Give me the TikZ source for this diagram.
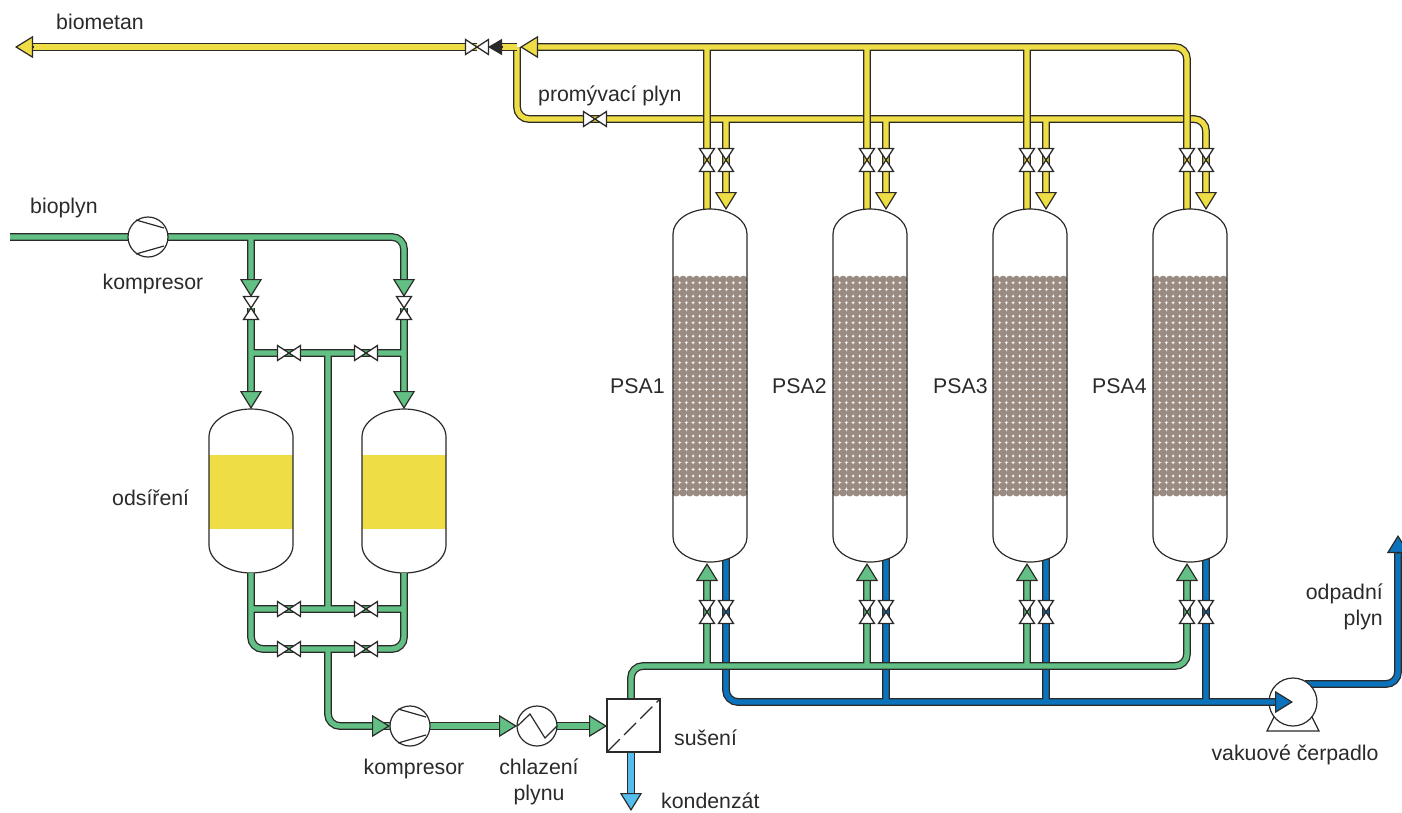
\documentclass[tikz,border=0pt]{standalone}
\usepackage{fontspec}
\setmainfont{Liberation Sans}
\usetikzlibrary{arrows.meta,calc}
\definecolor{ink}{HTML}{2B2A29}
\definecolor{yel}{HTML}{EFDD45}
\definecolor{grn}{HTML}{62C085}
\definecolor{blu}{HTML}{0B72BC}
\definecolor{sky}{HTML}{55BDEE}
\definecolor{bed}{HTML}{9A8B82}
\tikzset{
  pipeout/.style={draw=ink,line width=7.8pt,rounded corners=12pt},
  pipein/.style={draw=#1,line width=5.2pt,rounded corners=12pt},
  headtip/.style={draw=ink,line width=1.2pt,-{Triangle[length=18pt,width=22pt,fill=#1,sep=0pt]}},
  blacktipstyle/.style={draw=ink,line width=1.2pt,-{Triangle[length=14pt,width=16pt,fill=ink,sep=0pt]}},
  valveshape/.style={draw=ink,fill=white,line width=1.3pt,line join=miter},
  equip/.style={draw=ink,fill=white,line width=1.2pt,inner sep=0pt,circle,minimum size=40pt},
  shell/.style={draw=ink,line width=1.2pt},
  lab/.style={text=ink,font=\fontsize{21.3pt}{24pt}\selectfont,inner sep=0pt,anchor=base west},
  labc/.style={text=ink,font=\fontsize{21.3pt}{24pt}\selectfont,inner sep=0pt,anchor=base},
  labe/.style={text=ink,font=\fontsize{21.3pt}{24pt}\selectfont,inner sep=0pt,anchor=base east}
}
\newcommand{\pipes}[2]{\draw[pipeout] #2; \draw[pipein=#1] #2;}
\newcommand{\head}[3]{\draw[headtip=#1] (#2) -- (#3);}
\newcommand{\valveH}[2]{\node[coordinate] (#1) at (#2) {};
  \draw[valveshape] ($(#1)+(-11.5,-7.5)$) -- ($(#1)+(11.5,7.5)$) -- ($(#1)+(11.5,-7.5)$) -- ($(#1)+(-11.5,7.5)$) -- cycle;}
\newcommand{\valveV}[2]{\node[coordinate] (#1) at (#2) {};
  \draw[valveshape] ($(#1)+(-7.5,-11.5)$) -- ($(#1)+(7.5,11.5)$) -- ($(#1)+(-7.5,11.5)$) -- ($(#1)+(7.5,-11.5)$) -- cycle;}
% name, cx, top, bottom, rx, ry
\newcommand{\vesselpath}[6]{
  \pgfmathsetmacro{\vl}{#2-#5}\pgfmathsetmacro{\vr}{#2+#5}
  \pgfmathsetmacro{\vtt}{#3+#6}\pgfmathsetmacro{\vbb}{#4-#6}
  \pgfmathsetmacro{\kx}{0.5523*#5}\pgfmathsetmacro{\ky}{0.5523*#6}
  \pgfmathsetmacro{\cl}{#2-\kx}\pgfmathsetmacro{\cr}{#2+\kx}
  \pgfmathsetmacro{\ct}{\vtt-\ky}\pgfmathsetmacro{\cb}{\vbb+\ky}
  \def\shellpath{(\vl,\vtt) .. controls (\vl,\ct) and (\cl,#3) .. (#2,#3)
    .. controls (\cr,#3) and (\vr,\ct) .. (\vr,\vtt) -- (\vr,\vbb)
    .. controls (\vr,\cb) and (\cr,#4) .. (#2,#4)
    .. controls (\cl,#4) and (\vl,\cb) .. (\vl,\vbb) -- cycle}
  \node[coordinate] (#1) at (#2,{(#3+#4)/2}) {};
  \fill[white] \shellpath;
}
\begin{document}
\begin{tikzpicture}[x=1pt,y=-1pt]
\useasboundingbox (0,0) rectangle (1402,812);

% ---------- named points
\foreach \n/\a/\b in {1/707/726,2/867/886,3/1027/1046,4/1187/1206}{
  \coordinate (ta\n) at (\a,47);
  \coordinate (tb\n) at (\a,215);
  \coordinate (wa\n) at (\b,119);
  \coordinate (wb\n) at (\b,193);
  \coordinate (wt\n) at (\b,210);
  \coordinate (ga\n) at (\a,666);
  \coordinate (gb\n) at (\a,579);
  \coordinate (gt\n) at (\a,563);
  \coordinate (ba\n) at (\b,550);
  \coordinate (bb\n) at (\b,701);
  \node[coordinate] (vy\n) at (\a,160) {};
  \node[coordinate] (vw\n) at (\b,160) {};
  \node[coordinate] (vg\n) at (\a,612) {};
  \node[coordinate] (vb\n) at (\b,612) {};
}
\coordinate (topin) at (537,47);
\coordinate (toptip) at (520,47);
\coordinate (wj) at (517,47);
\coordinate (wcorner) at (517,119);
\coordinate (blackbase) at (502,47);
\coordinate (blacktip) at (488,47);
\coordinate (biobase) at (33,47);
\coordinate (biotip) at (15,47);
\node[coordinate] (vbio) at (477,47) {};
\node[coordinate] (vwash) at (595,119) {};

% ---------- yellow: rinse line below, product line above
\pipes{yel}{(wj) -- (wcorner) -- (1206,119) -- (wb4) (wa1) -- (wb1) (wa2) -- (wb2) (wa3) -- (wb3)}
\pipes{yel}{(blackbase) -- (wj)}
\pipes{yel}{(topin) -- (1187,47) -- (tb4) (ta1) -- (tb1) (ta2) -- (tb2) (ta3) -- (tb3)}
\pipes{yel}{(biobase) -- (vbio)}

% ---------- blue tail gas below, green PSA feed above
\coordinate (pumpout) at (1305,684);
\coordinate (wastebase) at (1398,553);
\coordinate (wastetip) at (1398,535);
\pipes{blu}{(pumpout) -- (1398,684) -- (wastebase)}
\draw[shell,fill=white] (1274,717) -- (1267,731) -- (1319,731) -- (1312,717);
\node[equip,minimum size=48pt] (pump) at (1293,702) {};
\coordinate (pumpbase) at (1277,702);
\pipes{blu}{(ba1) -- (726,702) -- (pumpbase) (ba2) -- (bb2) (ba3) -- (bb3) (ba4) -- (bb4)}
\coordinate (dryout) at (631,700);
\pipes{grn}{(dryout) -- (631,666) -- (1187,666) -- (gb4) (ga1) -- (gb1) (ga2) -- (gb2) (ga3) -- (gb3)}

% ---------- PSA vessels
\foreach \n/\c in {1/710,2/870,3/1030,4/1190}{
  \vesselpath{psa\n}{\c}{209}{562}{37}{25}
  \foreach \i in {0,...,10}{\foreach \j in {0,...,32}{
    \fill[bed] ({\c-37+3.35+6.7*\i},{279.5+6.66*\j}) circle (3.85pt);
  }}
  \draw[shell] \shellpath;
}
% ---------- desulphurisation vessels
\foreach \n/\c in {1/251,2/404}{
  \vesselpath{des\n}{\c}{409}{573}{42}{28}
  \fill[yel] (\c-42,455) rectangle (\c+42,529);
  \draw[shell] \shellpath;
}

% ---------- heads of the PSA lines
\head{yel}{biobase}{biotip}
\head{yel}{topin}{toptip}
\draw[blacktipstyle] (blackbase) -- (blacktip);
\foreach \n in {1,2,3,4}{\head{yel}{wb\n}{wt\n}}
\foreach \n in {1,2,3,4}{\head{grn}{gb\n}{gt\n}}
\head{blu}{wastebase}{wastetip}
\head{blu}{pumpbase}{pump.center}

% valves on PSA lines
\foreach \n in {1,2,3,4}{
  \valveV{vya\n}{vy\n}\valveV{vwa\n}{vw\n}\valveV{vga\n}{vg\n}\valveV{vba\n}{vb\n}
}
\valveH{vbioa}{vbio}
\valveH{vwasha}{vwash}

% ---------- green, left part
\coordinate (feedstart) at (10,237);
\coordinate (ft1) at (251,237);
\coordinate (fb1) at (251,281);
\coordinate (fa1) at (251,297);
\coordinate (fb2) at (404,281);
\coordinate (fa2) at (404,297);
\node[coordinate] (vf1) at (251,308) {};
\node[coordinate] (vf2) at (404,308) {};
\coordinate (dn1s) at (251,308);
\coordinate (dn1b) at (251,393);
\coordinate (dn1t) at (251,409);
\coordinate (dn2s) at (404,308);
\coordinate (dn2b) at (404,393);
\coordinate (dn2t) at (404,409);
\coordinate (hl) at (251,353);
\coordinate (hr) at (404,353);
\coordinate (hm) at (328,353);
\coordinate (lml) at (251,609);
\coordinate (lmr) at (404,609);
\coordinate (lmm) at (328,609);
\coordinate (lowm) at (328,649);

\pipes{grn}{(hm) -- (lmm) (lowm) -- (328,726) -- (373,726)
  (feedstart) -- (ft1) -- (404,237) -- (fb2) (ft1) -- (fb1)
  (dn1s) -- (dn1b) (dn2s) -- (dn2b) (hl) -- (hr)
  (lml) -- (lmr)
  (251,573) -- (251,649) -- (404,649) -- (404,573)}
\foreach \a/\b in {fb1/fa1,fb2/fa2,dn1b/dn1t,dn2b/dn2t}{\head{grn}{\a}{\b}}
\valveV{vfa}{vf1}\valveV{vfb}{vf2}
\foreach \n/\x/\y in {a/289/353,b/366/353,c/289/609,d/366/609,e/289/649,f/366/649}{\valveH{vh\n}{\x,\y}}

% compressors, cooler, dryer
\coordinate (cooltip) at (517,726);
\coordinate (coolbase) at (500,726);
\coordinate (drybase) at (590,726);
\coordinate (drytip) at (607,726);
\coordinate (condout) at (631,797);
\coordinate (condtip) at (631,811);
\pipes{grn}{(373,726) -- (coolbase)}
\pipes{grn}{(537,726) -- (drybase)}
\pipes{sky}{(631,752) -- (condout)}
\head{sky}{condout}{condtip}
\head{grn}{373,726}{390,726}
\head{grn}{coolbase}{cooltip}
\head{grn}{drybase}{drytip}

\node[equip] (comp1) at (148,237) {};
\draw[shell] ($(comp1)+(-12,-17)$) -- ($(comp1)+(16,-9)$) ($(comp1)+(-12,17)$) -- ($(comp1)+(16,9)$);
\node[equip] (comp2) at (410,726) {};
\draw[shell] ($(comp2)+(-12,-17)$) -- ($(comp2)+(16,-9)$) ($(comp2)+(-12,17)$) -- ($(comp2)+(16,9)$);
\node[equip] (cool) at (537,726) {};
\draw[shell] ($(cool)+(-19.5,0)$) -- ($(cool)+(-7,-12)$) -- ($(cool)+(8,12)$) -- ($(cool)+(20,0)$);
\node[draw=ink,fill=white,line width=1.2pt,inner sep=0pt,minimum size=53pt] (dry) at (633.5,725.5) {};
\draw[shell,dash pattern=on 17pt off 6pt,dash phase=-2pt] (dry.south west) -- (dry.north east);

% ---------- labels
\node[lab] (tbiomet) at (56,29) {biometan};
\node[lab] (tbioplyn) at (30,213) {bioplyn};
\node[labc] (tkomp1) at (153,289) {kompresor};
\node[lab] (twash) at (538,101) {promývací plyn};
\node[lab] (tpsa1) at (610,393) {PSA1};
\node[lab] (tpsa2) at (772,393) {PSA2};
\node[lab] (tpsa3) at (933,393) {PSA3};
\node[lab] (tpsa4) at (1092,393) {PSA4};
\node[lab] (todsi) at (112,505) {odsíření};
\node[labc] (tkomp2) at (414,774) {kompresor};
\node[labc] (tchl) at (539,774) {chlazení};
\node[labc] (tply) at (539,800) {plynu};
\node[lab] (tsus) at (674,745) {sušení};
\node[lab] (tkond) at (661,808) {kondenzát};
\node[labc] (tvak) at (1295,760) {vakuové čerpadlo};
\node[labe] (todp) at (1383,599) {odpadní};
\node[labe] (tpl2) at (1383,625) {plyn};
\end{tikzpicture}
\end{document}
